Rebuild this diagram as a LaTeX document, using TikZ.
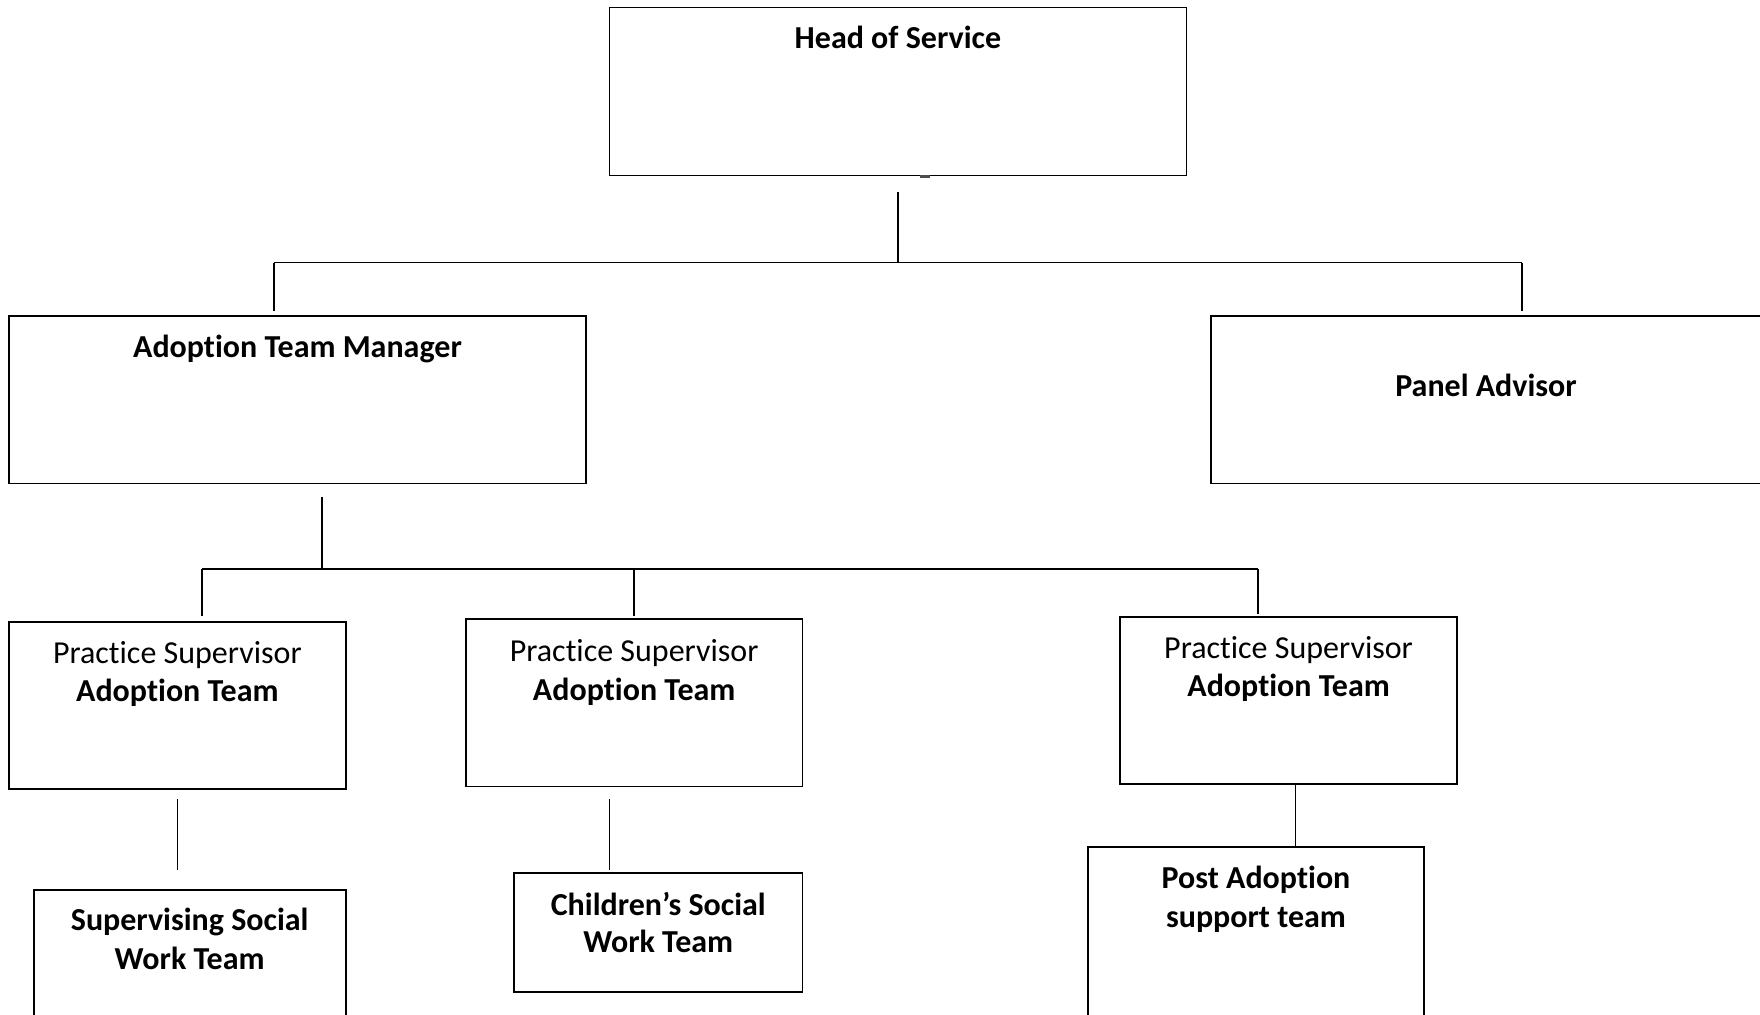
\documentclass[tikz,border=0pt]{standalone}
\usepackage{fontspec}
\setmainfont{Carlito}[Ligatures={NoCommon,NoContextual,NoRequired},Contextuals={NoAlternate}]
\newcommand\brk{\kern0pt\relax}
\begin{document}
\begin{tikzpicture}[x=1pt,y=-1pt,
  box/.style={draw=black,line width=1.8pt,rectangle,inner sep=0pt},
  bigbox/.style={box,minimum width=576.9pt,minimum height=167.8pt},
  psbox/.style={box,minimum width=336.7pt,minimum height=167.6pt},
  txt/.style={anchor=base,inner sep=0pt,font=\fontsize{32}{38.7}\selectfont\bfseries},
  txtr/.style={anchor=base,inner sep=0pt,font=\fontsize{32}{38.7}\selectfont},
  conn/.style={draw=black,line width=1.6pt}]
\useasboundingbox (0,0) rectangle (1760,1014);
\fill[white] (0,0) rectangle (1760,1014);
% boxes
\node[bigbox] (head) at (897.95,91.5) {};
\node[bigbox] (atm) at (297.45,399.6) {};
\node[bigbox,anchor=west] (pa) at (1210,399.6) {};
\node[psbox] (ps1) at (177.35,705.4) {};
\node[psbox] (ps2) at (634.15,702.6) {};
\node[psbox] (ps3) at (1288.55,700.4) {};
\node[box,minimum width=312pt,minimum height=200pt,anchor=north] (sswt) at (189.7,889) {};
\node[box,minimum width=288.5pt,minimum height=119pt] (cswt) at (658.25,932.7) {};
\node[psbox,minimum height=200pt,anchor=north] (past) at (1255.95,846.3) {};
% texts
\node[txt] (headt) at (897.95,48.3) {Head of Service};
\node[txt] (atmt) at (297.45,357.3) {Adopt\brk ion Team Manager};
\node[txt] (pat) at (1486,396.7) {Panel Advisor};
\node[txtr] (ps1a) at (177.35,663.3) {Pract\brk ice Supervisor};
\node[txt] (ps1b) at (177.35,701.7) {Adopt\brk ion Team};
\node[txtr] (ps2a) at (634.15,661) {Pract\brk ice Supervisor};
\node[txt] (ps2b) at (634.15,700) {Adopt\brk ion Team};
\node[txtr] (ps3a) at (1288.55,658.3) {Pract\brk ice Supervisor};
\node[txt] (ps3b) at (1288.55,696.7) {Adopt\brk ion Team};
\node[txt] (sswta) at (189.7,930.7) {Supervising Social};
\node[txt] (sswtb) at (189.7,969.3) {Work Team};
\node[txt] (cswta) at (658.25,915) {Children’s Social};
\node[txt] (cswtb) at (658.25,952.7) {Work Team};
\node[txt] (pasta) at (1256,888.3) {Post Adopt\brk ion};
\node[txt] (pastb) at (1256,927) {support team};
% connector points
\coordinate (h1) at (898,191.9);
\coordinate (h2) at (898,262.6);
\coordinate (hl) at (273.9,262.6);
\coordinate (hr) at (1522,262.6);
\coordinate (hla) at (273.9,310.9);
\coordinate (hra) at (1522,310.9);
\coordinate (a1) at (322.1,497.2);
\coordinate (a2) at (322.1,569.1);
\coordinate (al) at (202,569.1);
\coordinate (am) at (634.2,569.1);
\coordinate (ar) at (1258.2,569.1);
\coordinate (ala) at (202,616.2);
\coordinate (ama) at (634.2,616.2);
\coordinate (ara) at (1258.2,614);
\coordinate (p1a) at (177.3,799.1);
\coordinate (p1b) at (177.3,869.9);
\coordinate (p2a) at (609.5,799.1);
\coordinate (p2b) at (609.5,869.9);
\coordinate (p3b) at (1295.3,846.3);
% connectors
\draw[conn] (h1) -- (h2);
\draw[conn] (hl) -- (hr);
\draw[conn] (hl) -- (hla);
\draw[conn] (hr) -- (hra);
\draw[conn] (a1) -- (a2);
\draw[conn] (al) -- (ar);
\draw[conn] (al) -- (ala);
\draw[conn] (am) -- (ama);
\draw[conn] (ar) -- (ara);
\draw[conn] (p1a) -- (p1b);
\draw[conn] (p2a) -- (p2b);
\draw[conn] (ps3.south -| p3b) -- (p3b);
% small mark on head box bottom edge
\draw[line width=2.6pt,black!70] ([xshift=22pt]head.south) -- ([xshift=32pt]head.south);
\end{tikzpicture}
\end{document}
